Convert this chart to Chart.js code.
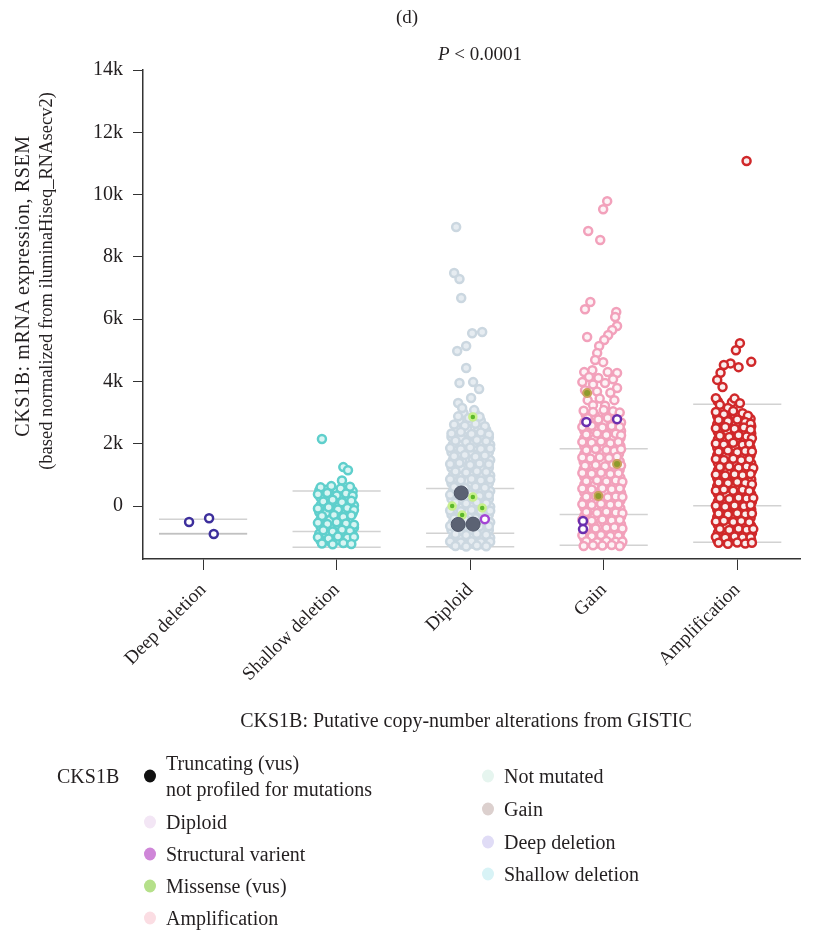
<!DOCTYPE html>
<html>
<head>
<meta charset="utf-8">
<script src="https://cdn.jsdelivr.net/npm/chart.js@4.4.1/dist/chart.umd.min.js"></script>
<style>
  html, body { margin: 0; padding: 0; background: #fff; }
  #wrap { position: relative; width: 814px; height: 930px; font-family: 'Liberation Serif', 'Times New Roman', serif; color: #231f20; }
  #chart { position: absolute; left: 0; top: 0; }
  .t { position: absolute; white-space: nowrap; font-size: 19px; line-height: 1; }
  .big { font-size: 20px; }
  .c { transform: translate(-50%, -50%); }
  .l { transform: translate(0, -50%); }
  .r { transform: translate(-50%, -50%) rotate(-90deg); }
  .dot { position: absolute; width: 12px; height: 13px; border-radius: 50%; transform: translate(-50%, -50%); }
</style>
</head>
<body>
<div id="wrap">
  <canvas id="chart" width="814" height="930"></canvas>
  <div class="t c" style="left:407px;top:16px">(d)</div>
  <div class="t c" style="left:480px;top:53px"><i>P</i> &lt; 0.0001</div>
  <div class="t r" style="left:22px;top:286px;font-size:20px;letter-spacing:0.6px">CKS1B: mRNA expression, RSEM</div>
  <div class="t r" style="left:46px;top:281px;font-size:18.5px">(based normalized from iluminaHiseq_RNAsecv2)</div>
  <div class="t c big" style="left:466px;top:720px">CKS1B: Putative copy-number alterations from GISTIC</div>
  <div id="legend"></div>
</div>
<script>
// Copy-number groups on the x axis
const categories = ['Deep deletion', 'Shallow deletion', 'Diploid', 'Gain', 'Amplification'];
const yTickValues = [0, 2000, 4000, 6000, 8000, 10000, 12000, 14000];
const yTickLabels = ['0', '2k', '4k', '6k', '8k', '10k', '12k', '14k'];

// Box statistics per group (upper quartile, median, lower quartile)
const boxUpper  = [-420, 480, 560, 1840, 3270];
const boxMedian = [-880, -820, -870, -270, 10];
const boxLower  = [-900, -1320, -1310, -1260, -1160];

// Samples per group: [horizontal jitter within the group, RSEM expression]
const deepDeletion = [[-0.105, -510], [0.045, -390], [0.08, -900]];

const shallowDeletion = [
  [-0.11, 2150], [0.05, 1250], [0.085, 1150], [0.04, 820],
  [-0.12, 600], [-0.04, 640], [0.03, 560], [0.1, 620],
  [-0.14, 380], [-0.07, 420], [0.0, 340], [0.07, 400], [0.12, 330],
  [-0.1, 150], [-0.03, 200], [0.04, 120], [0.11, 170],
  [-0.14, -80], [-0.06, -40], [0.01, -110], [0.08, -60], [0.13, -130],
  [-0.11, -320], [-0.02, -290], [0.05, -350], [0.11, -300],
  [-0.14, -540], [-0.07, -580], [0.0, -520], [0.07, -560], [0.13, -600],
  [-0.1, -780], [-0.03, -820], [0.04, -760], [0.1, -800],
  [-0.14, -1000], [-0.06, -1040], [0.01, -980], [0.08, -1020], [0.13, -990],
  [-0.11, -1200], [-0.03, -1230], [0.05, -1190], [0.11, -1220]
];
const shallowDeletionLower = [
  [-0.13, 500], [-0.08, 520], [0.0, 470], [0.065, 510], [0.12, 480],
  [-0.12, 270], [-0.05, 290], [0.02, 250], [0.09, 280],
  [-0.12, 30], [-0.05, 60], [0.02, 20], [0.09, 50], [0.13, 20],
  [-0.13, -200], [-0.08, -220], [0.0, -190], [0.07, -210], [0.12, -230],
  [-0.12, -430], [-0.05, -450], [0.02, -420], [0.09, -440],
  [-0.12, -660], [-0.05, -680], [0.02, -650], [0.09, -670], [0.13, -690],
  [-0.13, -890], [-0.08, -910], [0.0, -880], [0.06, -900], [0.12, -920],
  [-0.12, -1110], [-0.05, -1130], [0.02, -1100], [0.09, -1120]
];

const diploid = [
  [-0.105, 8960], [-0.12, 7480], [-0.08, 7290], [-0.067, 6680], [0.015, 5550], [0.09, 5590],
  [-0.097, 4980], [-0.03, 5140], [-0.03, 4430], [-0.08, 3950], [0.022, 3980], [0.067, 3760],
  [0.007, 3470], [-0.09, 3310],
  [-0.06, 3150], [0.03, 3080],
  [-0.09, 2880], [-0.01, 2830], [0.07, 2870],
  [-0.12, 2620], [-0.04, 2580], [0.04, 2640], [0.11, 2560],
  [-0.14, 2330], [-0.07, 2380], [0.01, 2310], [0.08, 2360], [0.14, 2300],
  [-0.11, 2100], [-0.03, 2060], [0.05, 2120], [0.12, 2080],
  [-0.15, 1860], [-0.07, 1820], [0.0, 1880], [0.08, 1830], [0.15, 1850],
  [-0.12, 1600], [-0.04, 1640], [0.04, 1580], [0.11, 1620],
  [-0.15, 1350], [-0.08, 1380], [0.0, 1320], [0.07, 1370], [0.14, 1340],
  [-0.11, 1110], [-0.03, 1080], [0.05, 1120], [0.12, 1090],
  [-0.15, 860], [-0.07, 830], [0.01, 870], [0.08, 820], [0.15, 850],
  [-0.12, 610], [-0.04, 580], [0.04, 620], [0.11, 590],
  [-0.15, 360], [-0.08, 330], [0.0, 370], [0.07, 320], [0.14, 350],
  [-0.11, 110], [-0.03, 80], [0.05, 120], [0.12, 90],
  [-0.15, -140], [-0.07, -170], [0.01, -130], [0.08, -160], [0.15, -150],
  [-0.12, -400], [-0.04, -430], [0.04, -390], [0.11, -420],
  [-0.15, -640], [-0.08, -670], [0.0, -630], [0.07, -660], [0.14, -650],
  [-0.11, -900], [-0.03, -930], [0.05, -890], [0.12, -920],
  [-0.15, -1140], [-0.07, -1170], [0.01, -1130], [0.08, -1160], [0.15, -1150],
  [-0.11, -1280], [-0.03, -1300], [0.05, -1270], [0.12, -1290]
];
const diploidLower = [
  [-0.05, 2990], [0.04, 2960],
  [-0.08, 2750], [0.0, 2720], [0.08, 2740],
  [-0.1, 2480], [-0.02, 2460], [0.06, 2490], [0.12, 2450],
  [-0.14, 2220], [-0.07, 2200], [0.0, 2240], [0.08, 2210], [0.14, 2200],
  [-0.13, 1980], [-0.06, 1960], [0.02, 1990], [0.09, 1970], [0.15, 1970],
  [-0.14, 1730], [-0.08, 1710], [0.0, 1740], [0.07, 1720], [0.14, 1730],
  [-0.13, 1480], [-0.06, 1460], [0.02, 1490], [0.09, 1470], [0.15, 1480],
  [-0.14, 1230], [-0.07, 1210], [0.01, 1240], [0.08, 1220], [0.14, 1230],
  [-0.13, 980], [-0.06, 960], [0.02, 990], [0.09, 970], [0.15, 980],
  [-0.14, 730], [-0.07, 710], [0.01, 740], [0.08, 720], [0.14, 730],
  [-0.13, 480], [-0.06, 460], [0.02, 490], [0.09, 470], [0.15, 480],
  [-0.14, 230], [-0.07, 210], [0.01, 240], [0.08, 220], [0.14, 230],
  [-0.13, -20], [-0.06, -40], [0.02, -10], [0.09, -30], [0.15, -20],
  [-0.14, -270], [-0.07, -290], [0.01, -260], [0.08, -280], [0.14, -270],
  [-0.13, -520], [-0.06, -540], [0.02, -510], [0.09, -530], [0.15, -520],
  [-0.14, -770], [-0.07, -790], [0.01, -760], [0.08, -780], [0.14, -770],
  [-0.13, -1020], [-0.06, -1040], [0.02, -1010], [0.09, -1030], [0.15, -1020],
  [-0.13, -1220], [-0.06, -1240], [0.02, -1210], [0.09, -1230]
];

const gain = [
  [0.026, 9790], [-0.004, 9530], [-0.116, 8830], [-0.026, 8540],
  [-0.1, 6550], [-0.14, 6320], [0.094, 6230], [0.086, 6070], [0.1, 5780], [0.064, 5650],
  [0.034, 5490], [0.004, 5330], [-0.124, 5430], [-0.034, 5140], [-0.049, 4910],
  [-0.004, 4620], [-0.064, 4690], [-0.146, 4300], [-0.085, 4360], [0.03, 4300],
  [0.1, 4270], [-0.11, 4140], [-0.04, 4110], [0.07, 4070], [-0.16, 3980],
  [-0.08, 3900], [0.01, 3950], [0.1, 3790], [-0.14, 3720], [-0.05, 3680],
  [0.05, 3640], [-0.12, 3400], [-0.03, 3450], [0.08, 3400], [-0.08, 3240], [0.01, 3220],
  [-0.15, 3060], [-0.08, 3020], [0.0, 3080], [0.07, 3040], [0.12, 3000],
  [-0.12, 2820], [-0.04, 2780], [0.03, 2830],
  [-0.16, 2540], [-0.09, 2580], [-0.01, 2520], [0.06, 2570], [0.12, 2540],
  [-0.13, 2300], [-0.05, 2330], [0.02, 2280], [0.09, 2320], [0.13, 2270],
  [-0.16, 2060], [-0.09, 2030], [-0.02, 2070], [0.05, 2020], [0.11, 2060],
  [-0.13, 1790], [-0.06, 1830], [0.02, 1800], [0.08, 1770], [0.13, 1820],
  [-0.16, 1560], [-0.1, 1530], [-0.03, 1570], [0.04, 1540], [0.1, 1580],
  [-0.14, 1290], [-0.06, 1320], [0.01, 1280], [0.07, 1330], [0.13, 1300],
  [-0.16, 1060], [-0.09, 1040], [-0.02, 1070], [0.05, 1030], [0.11, 1050],
  [-0.13, 800], [-0.05, 830], [0.02, 790], [0.09, 820], [0.14, 780],
  [-0.16, 560], [-0.09, 530], [-0.01, 570], [0.06, 540], [0.12, 560],
  [-0.13, 300], [-0.06, 320], [0.03, 280], [0.09, 310], [0.14, 290],
  [-0.16, 60], [-0.09, 30], [-0.02, 70], [0.05, 40], [0.11, 60],
  [-0.13, -190], [-0.05, -220], [0.02, -180], [0.09, -210], [0.14, -230],
  [-0.16, -440], [-0.09, -470], [-0.01, -430], [0.06, -460], [0.12, -450],
  [-0.13, -690], [-0.06, -720], [0.02, -700], [0.08, -680], [0.14, -720],
  [-0.16, -940], [-0.09, -970], [-0.02, -930], [0.05, -960], [0.11, -950],
  [-0.13, -1130], [-0.05, -1160], [0.02, -1120], [0.09, -1150], [0.14, -1140],
  [-0.15, -1280], [-0.08, -1260], [-0.01, -1270], [0.06, -1250], [0.12, -1280]
];
const gainLower = [
  [-0.135, 2940], [-0.065, 2910], [0.015, 2950], [0.085, 2920],
  [-0.145, 2690], [-0.075, 2660], [0.0, 2700], [0.075, 2650], [0.13, 2680],
  [-0.145, 2420], [-0.07, 2450], [0.005, 2400], [0.075, 2430], [0.13, 2410],
  [-0.145, 2190], [-0.07, 2160], [0.0, 2200], [0.07, 2150], [0.125, 2180],
  [-0.145, 1920], [-0.075, 1950], [0.0, 1910], [0.065, 1940], [0.125, 1930],
  [-0.145, 1680], [-0.08, 1650], [-0.005, 1690], [0.06, 1660], [0.115, 1690],
  [-0.15, 1420], [-0.08, 1450], [-0.01, 1410], [0.055, 1440], [0.12, 1430],
  [-0.15, 1180], [-0.075, 1150], [-0.005, 1190], [0.06, 1160], [0.12, 1170],
  [-0.145, 930], [-0.07, 960], [0.0, 920], [0.07, 950], [0.125, 910],
  [-0.145, 690], [-0.07, 660], [0.005, 700], [0.075, 670], [0.13, 680],
  [-0.145, 430], [-0.075, 450], [0.01, 420], [0.075, 440], [0.13, 420],
  [-0.145, 190], [-0.075, 160], [0.005, 200], [0.07, 170], [0.125, 180],
  [-0.145, -60], [-0.07, -90], [0.0, -50], [0.07, -80], [0.125, -70],
  [-0.145, -310], [-0.07, -340], [0.005, -300], [0.075, -330], [0.13, -340],
  [-0.145, -560], [-0.075, -590], [0.005, -550], [0.07, -580], [0.13, -590],
  [-0.145, -810], [-0.075, -840], [0.0, -820], [0.065, -800], [0.125, -840],
  [-0.145, -1040], [-0.07, -1060], [0.0, -1030], [0.07, -1050], [0.125, -1050],
  [-0.14, -1210], [-0.065, -1220], [0.005, -1200], [0.075, -1210], [0.13, -1220]
];

const amplification = [
  [0.07, 11080],
  [0.02, 5230], [-0.01, 5000], [0.105, 4630], [0.01, 4460], [-0.05, 4580], [-0.1, 4530],
  [-0.125, 4280], [-0.15, 4050], [-0.11, 3820],
  [-0.16, 3460], [-0.13, 3250], [-0.02, 3450], [0.02, 3300], [-0.07, 3150],
  [-0.16, 3020], [-0.1, 2950], [-0.03, 3050], [0.04, 2980], [0.08, 2900],
  [-0.14, 2760], [-0.07, 2720], [0.0, 2780], [0.06, 2700], [0.1, 2640],
  [-0.16, 2500], [-0.09, 2540], [-0.02, 2480], [0.05, 2520], [0.1, 2450],
  [-0.13, 2260], [-0.06, 2220], [0.01, 2270], [0.07, 2230], [0.11, 2180],
  [-0.16, 2010], [-0.1, 1980], [-0.03, 2030], [0.04, 1970], [0.09, 2000],
  [-0.14, 1740], [-0.07, 1780], [0.0, 1730], [0.06, 1770], [0.11, 1750],
  [-0.16, 1510], [-0.1, 1480], [-0.03, 1520], [0.03, 1470], [0.09, 1500],
  [-0.13, 1250], [-0.06, 1280], [0.01, 1230], [0.07, 1270], [0.12, 1220],
  [-0.16, 1010], [-0.09, 980], [-0.02, 1020], [0.04, 990], [0.1, 1030],
  [-0.14, 760], [-0.07, 730], [0.0, 770], [0.06, 740], [0.11, 700],
  [-0.16, 500], [-0.1, 530], [-0.03, 490], [0.04, 520], [0.09, 480],
  [-0.13, 260], [-0.06, 230], [0.01, 270], [0.07, 240], [0.12, 260],
  [-0.16, 10], [-0.09, -20], [-0.02, 20], [0.05, -10], [0.1, 30],
  [-0.14, -240], [-0.07, -270], [0.0, -230], [0.06, -260], [0.11, -240],
  [-0.16, -500], [-0.1, -470], [-0.03, -510], [0.03, -480], [0.09, -520],
  [-0.13, -740], [-0.06, -770], [0.01, -730], [0.07, -760], [0.12, -740],
  [-0.16, -990], [-0.09, -1020], [-0.02, -980], [0.04, -1010], [0.1, -1000],
  [-0.14, -1180], [-0.07, -1210], [0.0, -1170], [0.06, -1200], [0.11, -1180]
];
const amplificationLower = [
  [-0.145, 3360], [-0.04, 3330],
  [-0.15, 2890], [-0.085, 2850], [-0.015, 2900], [0.05, 2860], [0.1, 2800],
  [-0.15, 2630], [-0.08, 2610], [-0.01, 2650], [0.055, 2600], [0.105, 2560],
  [-0.145, 2380], [-0.075, 2400], [-0.005, 2370], [0.06, 2390], [0.105, 2330],
  [-0.145, 2140], [-0.08, 2100], [-0.01, 2150], [0.055, 2110], [0.1, 2090],
  [-0.15, 1880], [-0.085, 1860], [-0.015, 1890], [0.05, 1850], [0.1, 1870],
  [-0.15, 1630], [-0.085, 1600], [-0.015, 1640], [0.045, 1610], [0.1, 1630],
  [-0.145, 1380], [-0.08, 1370], [-0.01, 1400], [0.05, 1360], [0.105, 1370],
  [-0.145, 1140], [-0.075, 1120], [-0.005, 1150], [0.055, 1110], [0.11, 1130],
  [-0.15, 890], [-0.08, 860], [-0.01, 900], [0.05, 870], [0.105, 850],
  [-0.15, 640], [-0.085, 610], [-0.015, 650], [0.05, 620], [0.1, 600],
  [-0.145, 390], [-0.08, 370], [-0.01, 390], [0.055, 360], [0.105, 380],
  [-0.145, 140], [-0.075, 110], [-0.005, 150], [0.06, 120], [0.11, 140],
  [-0.15, -110], [-0.08, -140], [-0.01, -100], [0.055, -130], [0.105, -110],
  [-0.15, -360], [-0.085, -380], [-0.015, -350], [0.045, -370], [0.1, -380],
  [-0.145, -610], [-0.08, -640], [-0.01, -610], [0.05, -630], [0.105, -640],
  [-0.145, -860], [-0.075, -890], [-0.005, -850], [0.055, -880], [0.11, -870],
  [-0.15, -1090], [-0.08, -1110], [-0.01, -1090], [0.05, -1110], [0.105, -1100]
];

// Mutated samples: [group index, jitter, RSEM expression]
const notProfiled = [[2, -0.067, 420], [2, -0.09, -590], [2, 0.022, -580]];
const missenseDiploid = [[2, 0.02, 2860], [2, 0.02, 290], [2, -0.135, 0], [2, 0.09, -60], [2, -0.06, -290]];
const missenseGain = [[3, -0.124, 3630], [3, 0.1, 1350], [3, -0.04, 320]];
const structuralDiploid = [[2, 0.11, -420]];
const structuralGain = [[3, -0.13, 2700], [3, 0.1, 2790], [3, -0.155, -480], [3, -0.155, -740]];

// Legend entries
const legendLabels = ['Truncating (vus)\nnot profiled for mutations', 'Diploid', 'Structural varient', 'Missense (vus)', 'Amplification',
                      'Not mutated', 'Gain', 'Deep deletion', 'Shallow deletion'];
const legendColors = ['#111111', '#f3e6f5', '#cf86d8', '#b5e08a', '#fbdde3',
                      '#e6f5ef', '#dcd0ce', '#e0dcf6', '#d8f3f6'];

const toPoints = (idx, arr) => arr.map(([dx, v]) => ({ x: idx + dx, y: v }));
const toMutPoints = (arr) => arr.map(([idx, dx, v]) => ({ x: idx + dx, y: v }));

const groupStyles = [
  { border: '#3d2f9c', fill: '#ffffff' },
  { border: '#5fcfcc', fill: '#d9f5f3' },
  { border: '#cbd7e0', fill: '#e6ecf1' },
  { border: '#f2a1bb', fill: '#fdf3f6' },
  { border: '#d0282a', fill: '#faeeee' }
];
const groupData = [deepDeletion, shallowDeletion, diploid, gain, amplification];
const groupDataLower = [[], shallowDeletionLower, diploidLower, gainLower, amplificationLower];

const datasets = [];

// Quartile lines behind each group
categories.forEach((c, i) => {
  [boxUpper[i], boxMedian[i], boxLower[i]].forEach(v => {
    datasets.push({
      type: 'line', order: 30,
      data: [{ x: i - 0.33, y: v }, { x: i + 0.33, y: v }],
      borderColor: 'rgba(165,165,165,0.5)', borderWidth: 1.5,
      pointRadius: 0, showLine: true, fill: false
    });
  });
});

const pointStyle = (i) => ({
  pointRadius: 4, pointBorderWidth: 2.5,
  borderColor: groupStyles[i].border, backgroundColor: groupStyles[i].fill
});

groupDataLower.forEach((arr, i) => {
  if (arr.length) datasets.push(Object.assign({ label: categories[i], order: 11, data: toPoints(i, arr) }, pointStyle(i)));
});
groupData.forEach((arr, i) => {
  datasets.push(Object.assign({ label: categories[i], order: 10, data: toPoints(i, arr) }, pointStyle(i)));
});

datasets.push({
  label: 'Structural varient', order: 3, data: toMutPoints(structuralDiploid),
  pointRadius: 4, pointBorderWidth: 2.5, borderColor: '#a445d4', backgroundColor: '#ffffff'
});
datasets.push({
  label: 'Structural varient', order: 3, data: toMutPoints(structuralGain),
  pointRadius: 4, pointBorderWidth: 2.5, borderColor: '#6b2fae', backgroundColor: '#ffffff'
});
datasets.push({
  label: 'Missense (vus)', order: 2, data: toMutPoints(missenseDiploid),
  pointRadius: 3.5, pointBorderWidth: 2.5, borderColor: '#c8f08c', backgroundColor: '#5cb82a'
});
datasets.push({
  label: 'Missense (vus)', order: 2, data: toMutPoints(missenseGain),
  pointRadius: 4, pointBorderWidth: 2, borderColor: '#c9a25a', backgroundColor: '#8e9b2c'
});
datasets.push({
  label: 'not profiled', order: 1, data: toMutPoints(notProfiled),
  pointRadius: 7, pointBorderWidth: 1, borderColor: '#4e5567', backgroundColor: '#5b6273'
});

const serif = "'Liberation Serif', 'Times New Roman', serif";

new Chart(document.getElementById('chart'), {
  type: 'scatter',
  data: { datasets },
  options: {
    responsive: false,
    animation: false,
    devicePixelRatio: 1,
    layout: { padding: { left: 0, top: 70, right: 14, bottom: 0 } },
    plugins: { legend: { display: false }, tooltip: { enabled: false } },
    scales: {
      x: {
        type: 'linear', min: -0.45, max: 4.47,
        afterBuildTicks: s => { s.ticks = categories.map((c, i) => ({ value: i })); },
        afterFit: s => { s.height = 930 - 559; },
        ticks: {
          callback: (v) => categories[v],
          autoSkip: false, minRotation: 45, maxRotation: 45,
          font: { family: serif, size: 19 }, color: '#231f20', padding: 9
        },
        grid: { display: true, drawOnChartArea: false, drawTicks: true, tickLength: 11, color: '#333', lineWidth: 1 },
        border: { display: true, color: '#333', width: 1.5 }
      },
      y: {
        min: -1700, max: 14000,
        afterBuildTicks: s => { s.ticks = yTickValues.map(v => ({ value: v })); },
        afterFit: s => { s.width = 143; },
        ticks: {
          callback: (v, i) => yTickLabels[i],
          font: { family: serif, size: 20 }, color: '#231f20', padding: 10
        },
        grid: { display: true, drawOnChartArea: false, drawTicks: true, tickLength: 10, color: '#333', lineWidth: 1 },
        border: { display: true, color: '#333', width: 1.5 }
      }
    }
  }
});

// HTML legend below the chart
const legend = document.getElementById('legend');
const addText = (txt, x, y, cls) => {
  const d = document.createElement('div');
  d.className = 't big ' + cls;
  d.style.left = x + 'px'; d.style.top = y + 'px';
  d.textContent = txt;
  legend.appendChild(d);
};
const addDot = (color, x, y) => {
  const d = document.createElement('div');
  d.className = 'dot';
  d.style.left = x + 'px'; d.style.top = y + 'px';
  d.style.background = color;
  legend.appendChild(d);
};
addText('CKS1B', 57, 776, 'l');
const rowY = [776, 822, 854, 886, 918, 776, 809, 842, 874];
legendLabels.forEach((lab, i) => {
  const col2 = i >= 5;
  const dx = col2 ? 488 : 150;
  addDot(legendColors[i], dx, rowY[i]);
  const lines = lab.split('\n');
  if (lines.length === 2) {
    addText(lines[0], dx + 16, rowY[i] - 13, 'l');
    addText(lines[1], dx + 16, rowY[i] + 13, 'l');
  } else {
    addText(lines[0], dx + 16, rowY[i], 'l');
  }
});
</script>
</body>
</html>
